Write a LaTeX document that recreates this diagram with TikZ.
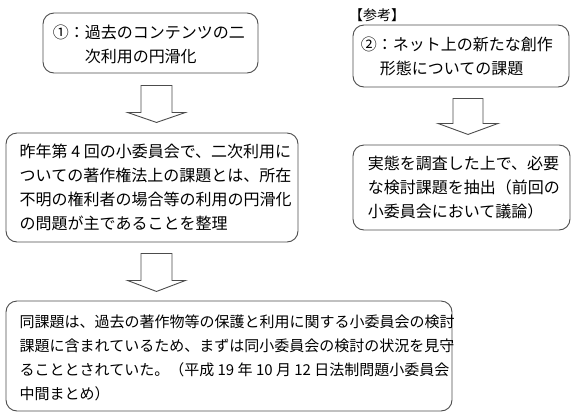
\documentclass[tikz,border=0pt]{standalone}
\usepackage{fontspec}
\setmainfont{Noto Sans CJK JP}
\usetikzlibrary{calc}
\tikzset{
  box/.style={draw=black!70, line width=0.9pt, rounded corners=11pt, inner sep=0pt},
  txt/.style={inner sep=0pt, align=left, anchor=west, font=\fontsize{16pt}{24pt}\selectfont},
  txtsmall/.style={txt, font=\fontsize{15pt}{24pt}\selectfont},
  arr/.style={draw=black!70, line width=0.9pt, line join=miter, fill=white}
}
\newcommand\blockarrow[5]{\draw[arr] (#1) ++(-#2,0) -- ++(0,#3) -- ++({#2-#4},0) -- ++(#4,#5) -- ++(#4,-#5) -- ++({#2-#4},0) -- ++(0,-#3) -- cycle;}
\begin{document}
\begin{tikzpicture}[x=1pt,y=-1pt]
\useasboundingbox (0,0) rectangle (576,416);
% boxes
\node[box, minimum width=215pt, minimum height=60pt] (b1) at (150.5,43) {};
\node[box, minimum width=216pt, minimum height=62pt] (b4) at (461,56) {};
\node[box, minimum width=292pt, minimum height=109pt] (b2) at (152,187.5) {};
\node[box, minimum width=217pt, minimum height=85pt] (b5) at (461.5,187.5) {};
\node[box, minimum width=446pt, minimum height=110pt] (b3) at (229,356) {};
% texts
\node[txt] (t1) at ($(b1.west)+(10,1)$) {①：過去のコンテンツの二\\\hspace*{2em}次利用の円滑化};
\node[txt] (t4) at ($(b4.west)+(8,0)$) {②：ネット上の新たな創作\\\hspace*{1.2em}形態についての課題};
\node[inner sep=0pt, anchor=west, font=\fontsize{14pt}{14pt}\selectfont] (ref) at (349,15) {【参考】};
\node[txt] (t2) at ($(b2.west)+(14,0)$) {昨年第 4 回の小委員会で、二次利用に\\ついての著作権法上の課題とは、所在\\不明の権利者の場合等の利用の円滑化\\の問題が主であることを整理};
\node[txt] (t5) at ($(b5.west)+(15,0)$) {実態を調査した上で、必要\\な検討課題を抽出（前回の\\小委員会において議論）};
\node[txtsmall] (t3) at ($(b3.west)+(14,2)$) {同課題は、過去の著作物等の保護と利用に関する小委員会の検討\\課題に含まれているため、まずは同小委員会の検討の状況を見守\\ることとされていた。（平成 19 年 10 月 12 日法制問題小委員会\\中間まとめ）};
% block arrows
\coordinate (a1) at ($(b1.south)+(6,12)$);
\coordinate (a2) at ($(b2.south)+(4.5,11)$);
\coordinate (a3) at ($(b4.south)+(7,11)$);
\blockarrow{a1}{15.5}{27}{29}{10}
\blockarrow{a2}{15.5}{27}{29}{11}
\blockarrow{a3}{15}{25}{30}{11}
\end{tikzpicture}
\end{document}
